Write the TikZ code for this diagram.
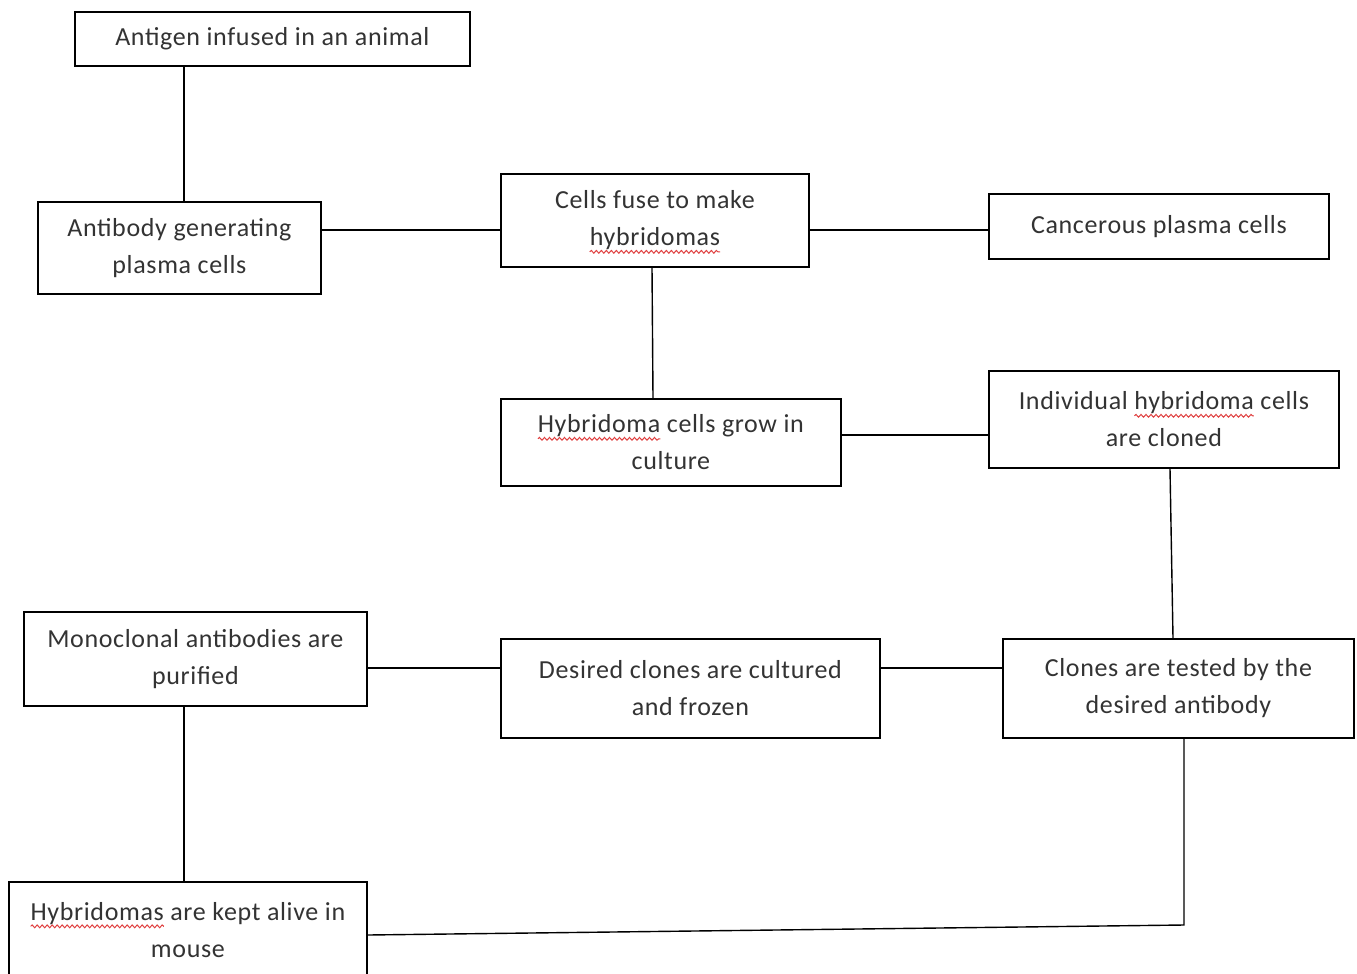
\documentclass[tikz,border=0pt]{standalone}
\usepackage{fontspec}
\setmainfont{Carlito}[LetterSpace=2.5]
\usetikzlibrary{decorations.pathmorphing}
\definecolor{wavered}{HTML}{E04040}
\definecolor{txt}{HTML}{333333}
\newsavebox\wavebox
\newcommand\redwave[1]{\sbox\wavebox{#1}\leavevmode\tikz[overlay,x=1pt,y=1pt]\draw[wavered,line width=1pt,decorate,decoration={snake,amplitude=1.4pt,segment length=5pt}] (0pt,-6pt) -- (\the\wd\wavebox,-6pt);\usebox\wavebox}
\tikzset{
  box/.style={draw=black, line width=1.8pt, anchor=north west, inner sep=0pt,
    align=center, text=txt, font=\fontsize{26}{37}\selectfont},
  link/.style={draw=black, line width=1.4pt}
}
\begin{document}
\begin{tikzpicture}[x=1pt,y=-1pt]
\clip (0,0) rectangle (1357,974);
\fill[white] (0,0) rectangle (1357,974);
\node[box, minimum width=395pt, minimum height=54pt] (b1) at (74,11) {Antigen infused in an animal};
\node[box, minimum width=283pt, minimum height=92pt] (b2) at (37,201) {Antibody generating\\plasma cells};
\node[box, minimum width=308pt, minimum height=93pt] (b3) at (500,173) {Cells fuse to make\\\redwave{hybridomas}};
\node[box, minimum width=340pt, minimum height=65pt] (b4) at (988,193) {Cancerous plasma cells};
\node[box, minimum width=340pt, minimum height=87pt] (b5) at (500,398) {\redwave{Hybridoma} cells grow in\\culture};
\node[box, minimum width=350pt, minimum height=97pt] (b6) at (988,370) {Individual \redwave{hybridoma} cells\\are cloned};
\node[box, minimum width=343pt, minimum height=94pt] (b7) at (23,611) {Monoclonal antibodies are\\purified};
\node[box, minimum width=379pt, minimum height=99pt] (b8) at (500,638) {Desired clones are cultured\\and frozen};
\node[box, minimum width=351pt, minimum height=99pt] (b9) at (1002,638) {Clones are tested by the\\desired antibody};
\node[box, minimum width=358pt, minimum height=96pt] (b10) at (8,881) {\redwave{Hybridomas} are kept alive in\\mouse};
\coordinate (k) at (1184,925);
\draw[link] ([xshift=110pt]b1.south west) -- ([xshift=147pt]b2.north west);
\draw[link] ([yshift=-29pt]b2.north east) -- ([yshift=-57pt]b3.north west);
\draw[link] ([yshift=-57pt]b3.north east) -- ([yshift=-37pt]b4.north west);
\draw[link] ([xshift=152pt]b3.south west) -- ([xshift=153pt]b5.north west);
\draw[link] ([yshift=-37pt]b5.north east) -- ([yshift=-65pt]b6.north west);
\draw[link] ([xshift=182pt]b6.south west) -- ([xshift=171pt]b9.north west);
\draw[link] ([yshift=-30pt]b9.north west) -- ([yshift=-30pt]b8.north east);
\draw[link] ([yshift=-30pt]b8.north west) -- ([yshift=-57pt]b7.north east);
\draw[link] ([xshift=161pt]b7.south west) -- ([xshift=176pt]b10.north west);
\draw[link] ([yshift=-54pt]b10.north east) -- (k) -- ([xshift=182pt]b9.south west);
\end{tikzpicture}
\end{document}
